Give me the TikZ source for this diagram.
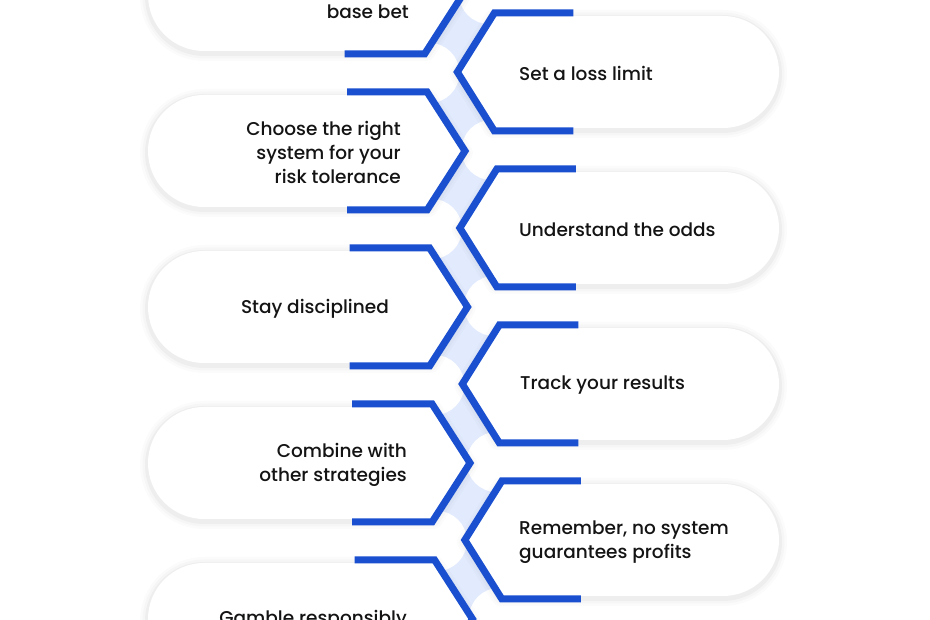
\documentclass[tikz,border=0pt]{standalone}
\usepackage{fontspec}
\setmainfont{Poppins}[UprightFont=* Medium]
\definecolor{chev}{HTML}{1A50D0}
\definecolor{band}{HTML}{E2EBFD}
\definecolor{ink}{HTML}{141414}
\newcommand\LeftPill[1]{%
  \pgfmathsetmacro\Yc{620-#1}%
  \pgfmathsetmacro\sh{0.016*(#1-300)}%
  \pgfmathsetmacro\tipx{467.4+\sh}%
  \pgfmathsetmacro\cx{429.5+\sh}%
  \pgfmathsetmacro\ex{349.5+\sh}%
  \foreach \w/\o in {16/0.015,11/0.02,6/0.03}{%
    \draw[line width=\w, draw=black, opacity=\o, line join=round]
      (\tipx,\Yc-2) -- (\cx+2,\Yc+54) -- (204,\Yc+54) arc[start angle=90,end angle=270,radius=56] -- (\cx+2,\Yc-58) -- cycle;}
  \fill[white] (\tipx,\Yc) -- (\cx+2,\Yc+56) -- (204,\Yc+56) arc[start angle=90,end angle=270,radius=56] -- (\cx+2,\Yc-56) -- cycle;
  \draw[chevline] (\ex,\Yc+59) -- (\cx,\Yc+59) -- (\tipx,\Yc) -- (\cx,\Yc-59) -- (\ex,\Yc-59);
}
\newcommand\RightPill[1]{%
  \pgfmathsetmacro\Yc{620-#1}%
  \pgfmathsetmacro\sh{0.016*(#1-300)}%
  \pgfmathsetmacro\tipx{461+\sh}%
  \pgfmathsetmacro\cx{498+\sh}%
  \pgfmathsetmacro\ex{577+\sh}%
  \foreach \w/\o in {16/0.015,11/0.02,6/0.03}{%
    \draw[line width=\w, draw=black, opacity=\o, line join=round]
      (\tipx,\Yc-2) -- (\cx-2,\Yc+54) -- (723,\Yc+54) arc[start angle=90,end angle=-90,radius=56] -- (\cx-2,\Yc-58) -- cycle;}
  \fill[white] (\tipx,\Yc) -- (\cx-2,\Yc+56) -- (723,\Yc+56) arc[start angle=90,end angle=-90,radius=56] -- (\cx-2,\Yc-56) -- cycle;
  \draw[chevline] (\ex,\Yc+59) -- (\cx,\Yc+59) -- (\tipx,\Yc) -- (\cx,\Yc-59) -- (\ex,\Yc-59);
}
\begin{document}
\begin{tikzpicture}[x=1pt,y=1pt,
  chevline/.style={draw=chev, line width=7, line join=miter},
  lbl/.style={text=ink, font=\fontsize{18.5}{24}\selectfont, inner sep=0pt},
  ltext/.style={lbl, align=right, anchor=east},
  rtext/.style={lbl, align=left, anchor=west}]
\useasboundingbox (0,0) rectangle (930,620);
\clip (0,0) rectangle (930,620);
\fill[white] (0,0) rectangle (930,620);
% light blue band
\fill[band] (415,0) rectangle (515,620);
% white gap blobs
\foreach \g in {73,229,385,541}{
  \pgfmathsetmacro\bx{433+0.016*(\g-300)}
  \fill[white] (\bx,620-\g) circle[radius=30];}
\foreach \g in {-6,150,306,462,618}{
  \pgfmathsetmacro\bx{494+0.016*(\g-300)}
  \fill[white] (\bx,620-\g) circle[radius=30];}
% pills
\LeftPill{-5}
\RightPill{72}
\LeftPill{151}
\RightPill{228}
\LeftPill{307}
\RightPill{384}
\LeftPill{463}
\RightPill{540}
\LeftPill{619}
% texts
\node[ltext] (t1) at (409,608.5) {base bet};
\node[rtext] (t2) at (519,546.5) {Set a loss limit};
\node[ltext] (t3) at (401,467.5) {Choose the right\\system for your\\risk tolerance};
\node[rtext] (t4) at (519,390.5) {Understand the odds};
\node[ltext] (t5) at (389,311.5) {Stay disciplined};
\node[rtext] (t6) at (520,234.5) {Track your results};
\node[ltext] (t7) at (407,155.5) {Combine with\\other strategies};
\node[rtext] (t8) at (519,77.5) {Remember, no system\\guarantees profits};
\node[ltext] (t9) at (407,0.5) {Gamble responsibly};
\end{tikzpicture}
\end{document}
